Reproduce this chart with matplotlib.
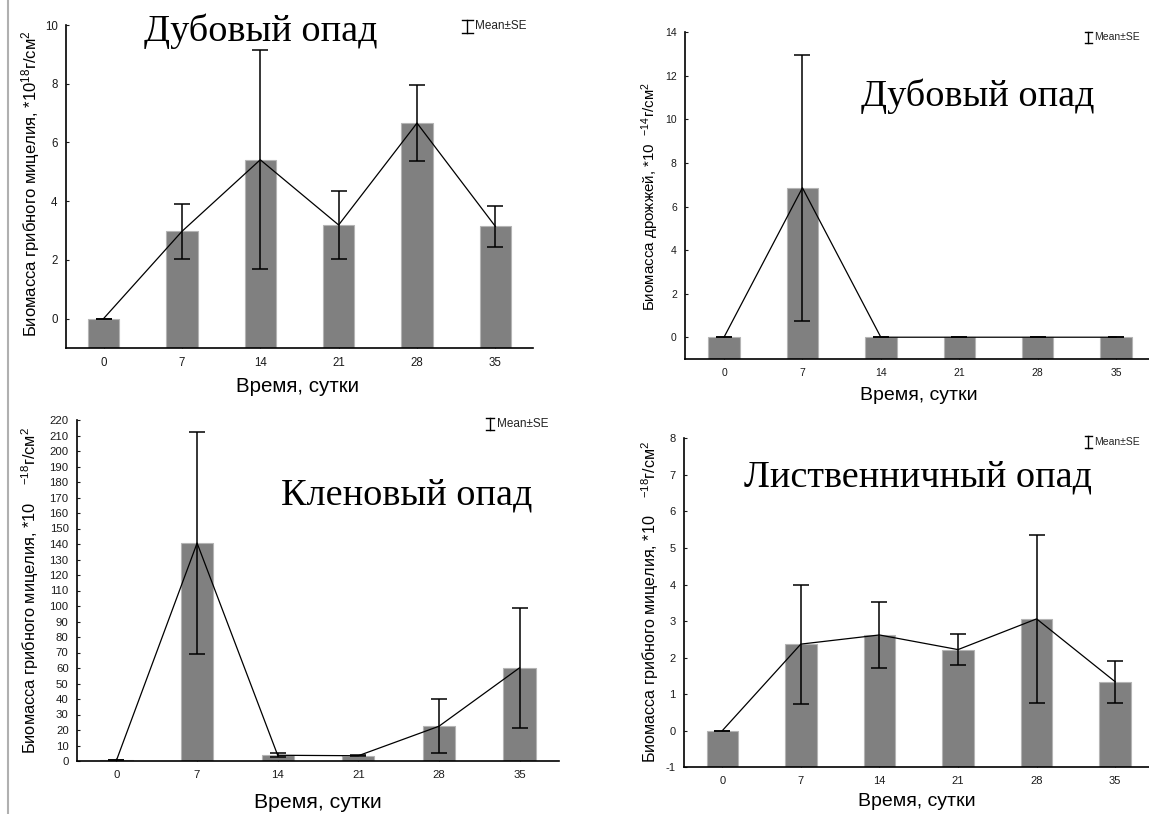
import matplotlib
matplotlib.use("Agg")
import matplotlib.pyplot as plt
from matplotlib.lines import Line2D
import numpy as np

# ---------------- data ----------------
days = ["0", "7", "14", "21", "28", "35"]

oak_myc_mean = [0.0, 2.97, 5.41, 3.19, 6.66, 3.14]
oak_myc_se = [0.0, 0.93, 3.73, 1.15, 1.30, 0.71]

oak_yeast_mean = [0.0, 6.86, 0.0, 0.0, 0.0, 0.0]
oak_yeast_se = [0.0, 6.10, 0.0, 0.0, 0.0, 0.0]

maple_myc_mean = [0.5, 140.6, 3.7, 3.4, 22.4, 60.1]
maple_myc_se = [0.0, 71.8, 1.2, 0.3, 17.5, 38.8]

larch_myc_mean = [0.0, 2.37, 2.62, 2.22, 3.06, 1.34]
larch_myc_se = [0.0, 1.63, 0.90, 0.43, 2.29, 0.57]

xlabel = "Время, сутки"
legend_text = "Mean±SE"

# ---------------- style ----------------
W, H = 1149, 814
plt.rcParams["font.family"] = ["Liberation Sans", "DejaVu Sans"]
plt.rcParams["mathtext.fontset"] = "custom"
plt.rcParams["mathtext.rm"] = "Liberation Sans"
plt.rcParams["mathtext.it"] = "Liberation Sans:italic"
plt.rcParams["mathtext.bf"] = "Liberation Sans:bold"
plt.rcParams["axes.unicode_minus"] = False

fig = plt.figure(figsize=(W / 100, H / 100), dpi=100)
fig.patch.set_facecolor("white")


def px(x, y):
    return x / W, 1 - y / H


def make_axes(left, right, top, bottom):
    return fig.add_axes([left / W, 1 - bottom / H, (right - left) / W, (bottom - top) / H])


def panel(ax, mean, se, ylim, yticks, xlim, tick_fs):
    x = np.arange(len(days))
    mean = np.asarray(mean)
    ymin = ylim[0]
    ax.bar(x, mean - ymin, bottom=ymin, width=0.40, color="#808080",
           edgecolor="#b4b4b4", linewidth=0.8, zorder=2)
    ax.plot(x, mean, color="black", linewidth=0.9, zorder=3)
    ax.errorbar(x, mean, yerr=se, fmt="none", ecolor="black", elinewidth=1.1,
                capsize=5.5, capthick=1.1, zorder=4)
    ax.set_xlim(*xlim)
    ax.set_ylim(*ylim)
    ax.set_xticks(x)
    ax.set_xticklabels(days)
    ax.set_yticks(yticks)
    for s in ("top", "right"):
        ax.spines[s].set_visible(False)
    for s in ("left", "bottom"):
        ax.spines[s].set_linewidth(1.2)
        ax.spines[s].set_color("black")
    ax.tick_params(direction="in", length=2.5, width=0.8, labelsize=tick_fs,
                   colors="#1a1a1a", pad=6)
    ax.tick_params(axis="x", pad=6.5)


def legend_mark(xs, ys, fs=8.5, h=6.5, w=5.5):
    # small I-beam symbol + text, in figure pixels
    for seg in ([(xs, ys - h), (xs, ys + h)], [(xs - w, ys - h), (xs + w, ys - h)],
                [(xs - w, ys + h), (xs + w, ys + h)]):
        (x0, y0), (x1, y1) = seg
        fig.add_artist(Line2D([x0 / W, x1 / W], [1 - y0 / H, 1 - y1 / H],
                              color="black", linewidth=1.0, transform=fig.transFigure))
    fig.text(*px(xs + w + 3, ys), legend_text, fontsize=fs, ha="left", va="center",
             color="#222222")


# slide border line on the left
fig.add_artist(Line2D([7.5 / W, 7.5 / W], [0, 1], color="#b0b0b0", linewidth=1.5,
                      transform=fig.transFigure))

TITLE_FS = 27.5

# ---- top-left: oak litter, fungal mycelium ----
ax1 = make_axes(65.9, 533, 25, 348)
panel(ax1, oak_myc_mean, oak_myc_se, (-1, 10), [0, 2, 4, 6, 8, 10], (-0.48, 5.48), 8.3)
fig.text(*px(297, 387), xlabel, fontsize=14.8, ha="center", va="center")
fig.text(*px(30.5, 184), "Биомасса грибного мицелия, *10$^{18}$г/см$^{2}$", fontsize=12,
         rotation=90, ha="center", va="center")
fig.text(*px(261, 41), "Дубовый опад", fontsize=TITLE_FS, family="Liberation Serif",
         ha="center", va="baseline")
legend_mark(467, 26)

# ---- top-right: oak litter, yeasts ----
ax2 = make_axes(685.2, 1149, 32.3, 359)
panel(ax2, oak_yeast_mean, oak_yeast_se, (-1, 14), [0, 2, 4, 6, 8, 10, 12, 14],
      (-0.495, 5.42), 7.5)
fig.text(*px(919, 396), xlabel, fontsize=14, ha="center", va="center")
fig.text(*px(650, 196), "Биомасса дрожжей, *10  $^{-14}$г/см$^{2}$", fontsize=10.9,
         rotation=90, ha="center", va="center")
fig.text(*px(978, 106), "Дубовый опад", fontsize=TITLE_FS, family="Liberation Serif",
         ha="center", va="baseline")
legend_mark(1088, 37, fs=7.5, h=5.5, w=3.5)

# ---- bottom-left: maple litter ----
ax3 = make_axes(77, 559, 420, 761)
panel(ax3, maple_myc_mean, maple_myc_se, (0, 220), list(range(0, 221, 10)),
      (-0.49, 5.49), 8.2)
fig.text(*px(318, 802), xlabel, fontsize=15.3, ha="center", va="center")
fig.text(*px(30.5, 590), "Биомасса грибного мицелия, *10    $^{-18}$г/см$^{2}$", fontsize=11.8,
         rotation=90, ha="center", va="center")
fig.text(*px(406.5, 504), "Кленовый опад", fontsize=TITLE_FS, family="Liberation Serif",
         ha="center", va="baseline")
legend_mark(490, 424, h=6, w=4)

# ---- bottom-right: larch litter ----
ax4 = make_axes(684.1, 1149, 438.3, 767.3)
panel(ax4, larch_myc_mean, larch_myc_se, (-1, 8), list(range(-1, 9)),
      (-0.485, 5.43), 8)
fig.text(*px(917, 802), xlabel, fontsize=14, ha="center", va="center")
fig.text(*px(650, 602), "Биомасса грибного мицелия, *10    $^{-18}$г/см$^{2}$", fontsize=11.6,
         rotation=90, ha="center", va="center")
fig.text(*px(918, 486), "Лиственничный опад", fontsize=TITLE_FS, family="Liberation Serif",
         ha="center", va="baseline")
legend_mark(1088, 442, fs=7.5, h=5.5, w=3.5)

fig.savefig("out.png", dpi=100, facecolor="white")
